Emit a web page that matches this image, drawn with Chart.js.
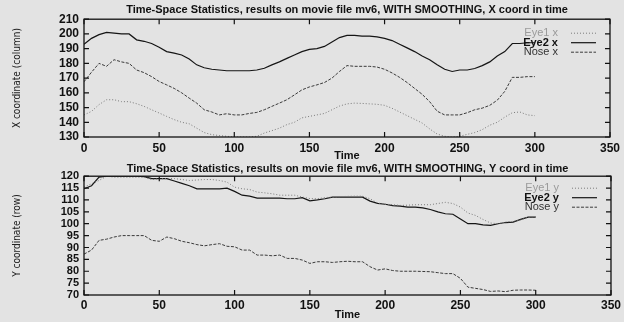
<!DOCTYPE html>
<html>
<head>
<meta charset="utf-8">
<title>Time-Space Statistics, mv6</title>
<script src="https://cdn.jsdelivr.net/npm/chart.js@4.4.1/dist/chart.umd.min.js"></script>
<style>
  body { margin: 0; background: #e3e3e3; }
  #wrap { position: relative; width: 624px; height: 322px; }
  canvas { position: absolute; left: 0; }
</style>
</head>
<body>
<div id="wrap">
  <canvas id="chartX" width="624" height="161" style="top:0"></canvas>
  <canvas id="chartY" width="624" height="162" style="top:160px"></canvas>
</div>
<script>
// sample times (frames)
const times = [0,5,10,15,20,25,30,35,40,45,
               50,55,60,65,70,75,80,85,90,95,
               100,105,110,115,120,125,130,135,140,145,
               150,155,160,165,170,175,180,185,190,195,
               200,205,210,215,220,225,230,235,240,245,
               250,255,260,265,270,275,280,285,290,295,
               300];

// X coordinate (column)
const eye1X = [145,147.4,152,155.3,155.3,154,154,152.6,150.8,148.5,
               146.3,144,141.8,140,139,136,133,131.6,131,130.5,
               130,130,130,130.5,132.7,134.3,136,138.4,140,143,
               144,145,146,148.5,151,152.5,153,152.8,152.5,152.2,
               151.5,149.5,147,144.5,142,139.5,135.5,132,130.5,130,
               130.5,131.8,133,135,138,140,143.5,146.5,147,145,
               144.5];
const eye2X = [193,197,199.5,201,200.5,200,200,196,195,193.5,
               191,188,187,185.7,183,179,177,176,175.5,175,
               175,175,175,175.5,176.7,179,181,183.4,185.7,188,
               189.5,190,191.5,194.5,197.5,199,199,198.5,198.5,198,
               197,195.5,193,190.5,188,185,182.5,179,176,174.5,
               175.5,175.5,176.5,178.5,181,185,188,193.5,193.5,194,
               194];
const noseX = [167.5,174,180,178,182.5,181,180,175.5,173.7,171,
               167.7,165.4,163,160,156.4,153,148.5,147,145,145.8,
               145,145,146,146.7,148.5,150.8,153,155.3,158.6,162,
               164,165.4,167,170,174.5,178.5,178,178,178,177.5,
               176,173.5,170.5,167,163,159,154,147.5,145,145,
               145,146.5,148.5,149.6,151.5,155,161,170.5,170.5,171,
               171];

// Y coordinate (row)
const eye1Y = [115.4,116.8,118.2,120,119.6,119.6,119.6,119.6,119.6,118.6,
               118.9,119,119,118.6,118.2,118.4,118.6,118.6,118.2,117.5,
               115.4,114.7,114.4,113.3,113,112.6,112,112,112,111.2,
               110.6,110.5,111,111.2,111.4,111.5,111.6,111.6,110.5,108.7,
               108.2,108,107.7,107.8,108,108,108,108.5,109,108.5,
               107,104.5,103.5,101.8,100.3,100,100.7,101,101.6,102.8,
               103];
const eye2Y = [114.7,116,119.6,120,120,120,120,120,119.8,119,
               119,119,118,117,116,114.7,114.7,114.7,114.7,115,
               113.6,112,111.6,110.8,110.8,110.8,110.8,110.5,110.5,111,
               109.6,110,110.5,111.2,111.2,111.2,111.2,111.2,109.5,108.6,
               108.2,107.6,107.4,107,107,106.7,106,105,104.2,104,
               102,100,100,99.5,99.3,100,100.5,100.7,101.8,102.8,
               102.8];
const noseY = [87.2,88.9,93,93.5,94.4,95,95,95,95,93,
               92.6,94.4,93.7,92.6,92,91.2,90.7,91.2,91.6,90.5,
               90.3,88.9,88.9,86.8,86.8,86.5,86.8,85.4,85.4,84.7,
               83.3,84,84,83.7,84,84.2,84,84,81.9,80.5,
               81,80.3,80,80,80,79.9,79.8,79.4,79,79,
               77,73.3,72.8,72.3,71.5,71.7,71.4,72,72.1,72.1,
               72];

const FONT = "'Liberation Sans', Arial, Helvetica, sans-serif";
const NARROW = "'Liberation Sans Narrow', 'DejaVu Sans Condensed', 'Liberation Sans', sans-serif";

function points(values) {
    return times.map((t, i) => ({ x: t, y: values[i] }));
}

function series(label, values, style) {
    return {
        label: label,
        data: points(values),
        borderColor: style.color,
        borderWidth: style.width,
        borderDash: style.dash,
        pointRadius: 0,
        tension: 0,
        fill: false,
        legendText: style.text,
        legendWeight: style.weight
    };
}

const eye1Style = { color: '#7a7a7a', width: 1, dash: [1, 2], text: '#9a9a9a', weight: 'normal' };
const eye2Style = { color: '#151515', width: 1.2, dash: [], text: '#111', weight: 'bold' };
const noseStyle = { color: '#3a3a3a', width: 1, dash: [3, 1.5], text: '#333', weight: 'normal' };

// gnuplot-like frame, inward ticks and key
const gnuplotFrame = {
    id: 'gnuplotFrame',
    afterDatasetsDraw(chart, args, opts) {
        const ctx = chart.ctx;
        const a = chart.chartArea;
        const xs = chart.scales.x, ys = chart.scales.y;
        ctx.save();
        ctx.strokeStyle = '#111';
        ctx.lineWidth = 1.3;
        ctx.strokeRect(a.left, a.top, a.right - a.left, a.bottom - a.top);
        ctx.lineWidth = 1.2;
        ctx.beginPath();
        xs.ticks.forEach(t => {
            const px = xs.getPixelForValue(t.value);
            ctx.moveTo(px, a.bottom); ctx.lineTo(px, a.bottom - 5);
            ctx.moveTo(px, a.top); ctx.lineTo(px, a.top + 5);
        });
        ys.ticks.forEach(t => {
            const py = ys.getPixelForValue(t.value);
            ctx.moveTo(a.left, py); ctx.lineTo(a.left + 5, py);
            ctx.moveTo(a.right, py); ctx.lineTo(a.right - 5, py);
        });
        ctx.stroke();

        // key, top right inside the plot
        ctx.textAlign = 'right';
        ctx.textBaseline = 'middle';
        chart.data.datasets.forEach((ds, i) => {
            const y = a.top + opts.keyTop + i * 9.5;
            ctx.font = ds.legendWeight + ' 11px ' + FONT;
            ctx.fillStyle = ds.legendText;
            ctx.fillText(ds.label, a.right - 52, y);
            ctx.strokeStyle = ds.borderColor;
            ctx.lineWidth = ds.borderWidth;
            ctx.setLineDash(ds.borderDash);
            ctx.beginPath();
            ctx.moveTo(a.right - 39, y);
            ctx.lineTo(a.right - 14, y);
            ctx.stroke();
            ctx.setLineDash([]);
        });
        ctx.restore();
    }
};

function makeChart(id, cfg) {
    new Chart(document.getElementById(id), {
        type: 'line',
        data: { datasets: cfg.datasets },
        options: {
            responsive: false,
            animation: false,
            devicePixelRatio: 1,
            layout: { padding: { left: 0, right: 12, top: 0, bottom: 0 } },
            plugins: {
                legend: { display: false },
                tooltip: { enabled: false },
                title: {
                    display: true,
                    fullSize: false,
                    text: cfg.title,
                    color: '#111',
                    font: { family: FONT, size: 11, weight: 'bold', lineHeight: 1.2 },
                    padding: cfg.titlePad
                },
                gnuplotFrame: { keyTop: cfg.keyTop }
            },
            scales: {
                x: {
                    type: 'linear',
                    min: 0,
                    max: 350,
                    grid: { display: false, drawTicks: false },
                    border: { display: false },
                    ticks: {
                        stepSize: 50,
                        autoSkip: false,
                        color: '#111',
                        padding: cfg.xTickPad,
                        maxRotation: 0,
                        font: { family: FONT, size: 12, weight: 'bold' }
                    },
                    title: {
                        display: true,
                        text: 'Time',
                        color: '#111',
                        font: { family: FONT, size: 11, weight: 'bold', lineHeight: 1 },
                        padding: { top: 0, bottom: cfg.timePad }
                    },
                    afterFit: s => { s.height = cfg.xHeight; }
                },
                y: {
                    min: cfg.yMin,
                    max: cfg.yMax,
                    grid: { display: false, drawTicks: false },
                    border: { display: false },
                    ticks: {
                        stepSize: cfg.yStep,
                        autoSkip: false,
                        color: '#111',
                        padding: 5,
                        font: { family: FONT, size: cfg.yTickSize, weight: 'bold', lineHeight: 1 }
                    },
                    title: {
                        display: true,
                        text: cfg.yTitle,
                        color: '#222',
                        font: { family: NARROW, size: 10 },
                        padding: { top: 11, bottom: 0 }
                    },
                    afterFit: s => { s.width = 84; }
                }
            }
        },
        plugins: [gnuplotFrame]
    });
}

makeChart('chartX', {
    title: 'Time-Space Statistics, results on movie file mv6, WITH SMOOTHING, X coord in time',
    titlePad: { top: 3, bottom: 3 },
    datasets: [
        series('Eye1 x', eye1X, eye1Style),
        series('Eye2 x', eye2X, eye2Style),
        series('Nose x', noseX, noseStyle)
    ],
    yMin: 130, yMax: 210, yStep: 10, yTickSize: 12,
    yTitle: 'X coordinate (column)',
    xHeight: 24, xTickPad: 4, timePad: 0,
    keyTop: 14
});

makeChart('chartY', {
    title: 'Time-Space Statistics, results on movie file mv6, WITH SMOOTHING, Y coord in time',
    titlePad: { top: 2.5, bottom: 0.5 },
    datasets: [
        series('Eye1 y', eye1Y, eye1Style),
        series('Eye2 y', eye2Y, eye2Style),
        series('Nose y', noseY, noseStyle)
    ],
    yMin: 70, yMax: 120, yStep: 5, yTickSize: 11,
    yTitle: 'Y coordinate (row)',
    xHeight: 27, xTickPad: 3, timePad: 2,
    keyTop: 12
});
</script>
</body>
</html>
